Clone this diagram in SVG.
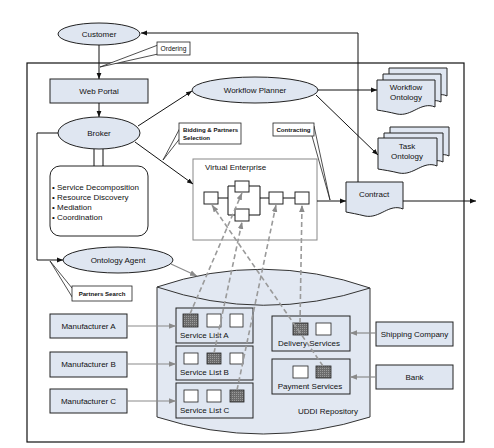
<svg xmlns="http://www.w3.org/2000/svg" width="494" height="448" viewBox="0 0 494 448">
<style>
text{font-family:"Liberation Sans",Arial,sans-serif;font-size:8px;fill:#111}
.c{text-anchor:middle}
.sm{font-size:6.7px}
.sb{font-size:6.1px;font-weight:bold}
.nb{fill:#dfe6f1;stroke:#222;stroke-width:1}
.wb{fill:#fff;stroke:#222;stroke-width:1}
.ln{fill:none;stroke:#111;stroke-width:1}
.gl{fill:none;stroke:#8a8a8a;stroke-width:1.2}
.dl{fill:none;stroke:#9a9a9a;stroke-width:1.6;stroke-dasharray:5 3}
.dk{fill:url(#hatch);stroke:#222;stroke-width:0.8}
.sq{fill:#fff;stroke:#222;stroke-width:0.8}
.co{fill:#fff;stroke:#222;stroke-width:0.8}
</style>
<defs>
<pattern id="hatch" width="2" height="2" patternUnits="userSpaceOnUse">
<rect width="2" height="2" fill="#6c6c6c"/><rect width="1" height="1" fill="#9a9a9a"/>
</pattern>
<marker id="ab" viewBox="0 0 10 10" refX="10" refY="5" markerWidth="6" markerHeight="6" orient="auto" markerUnits="userSpaceOnUse"><path d="M0,1 L10,5 L0,9 z" fill="#111"/></marker>
<marker id="ag" viewBox="0 0 10 10" refX="10" refY="5" markerWidth="7" markerHeight="7" orient="auto" markerUnits="userSpaceOnUse"><path d="M0,1 L10,5 L0,9 z" fill="#8a8a8a"/></marker>
</defs>
<rect width="494" height="448" fill="#fff"/>

<g id="frame"><rect x="27" y="63" width="437" height="379" fill="none" stroke="#111" stroke-width="1.2"/></g>

<g id="uddi">
<path d="M157,287 V417 Q263,451 370,417 V288" fill="#e2e8f2" stroke="#333" stroke-width="1"/>
<path d="M157,287 Q263,251 370,288 Q263,323 157,287 Z" fill="#e2e8f2" stroke="#333" stroke-width="1"/>
<text x="328" y="414" class="c">UDDI Repository</text>
</g>

<g id="customer"><ellipse cx="99" cy="34" rx="41" ry="11" class="nb"/><text x="99" y="37" class="c">Customer</text></g>
<g id="web-portal"><rect x="50" y="79" width="98" height="24" class="nb"/><text x="99" y="94" class="c">Web Portal</text></g>
<g id="broker"><ellipse cx="99" cy="133" rx="41" ry="16" class="nb"/><text x="99" y="136" class="c">Broker</text></g>
<g id="broker-functions">
<rect x="50" y="166" width="98" height="70" rx="10" class="wb"/>
<text x="52" y="190">• Service Decomposition</text>
<text x="52" y="200">• Resource Discovery</text>
<text x="52" y="210">• Mediation</text>
<text x="52" y="220">• Coordination</text>
</g>
<g id="ontology-agent"><ellipse cx="118" cy="260" rx="55" ry="13" class="nb"/><text x="118" y="263" class="c">Ontology Agent</text></g>
<g id="workflow-planner"><ellipse cx="255" cy="90" rx="63" ry="13" class="nb"/><text x="255" y="93" class="c">Workflow Planner</text></g>

<g id="workflow-ontology">
<path d="M389,68 H447 V96 C435,90 425,106 413,102 C405,99 397,101 389,102 Z" class="nb"/>
<path d="M383,74 H441 V102 C429,96 419,112 407,108 C399,105 391,107 383,108 Z" class="nb"/>
<path d="M377,80 H435 V107 C421,101 412,117 397,114 C389,112 383,111 377,110 Z" class="nb"/>
<text x="406" y="90" class="c">Workflow</text>
<text x="406" y="100" class="c">Ontology</text>
</g>
<g id="task-ontology">
<path d="M390,127 H449 V156 C437,150 427,166 415,162 C407,159 398,161 390,162 Z" class="nb"/>
<path d="M384,133 H443 V162 C431,156 421,172 409,168 C401,165 392,167 384,168 Z" class="nb"/>
<path d="M378,138 H437 V166 C423,160 414,176 399,173 C391,171 384,170 378,169 Z" class="nb"/>
<text x="407" y="149" class="c">Task</text>
<text x="407" y="159" class="c">Ontology</text>
</g>
<g id="contract">
<path d="M346,182 H403 V209 C389,203 380,219 365,216 C357,214 351,213 346,212 Z" class="nb"/>
<text x="374" y="197" class="c">Contract</text>
</g>

<g id="virtual-enterprise">
<rect x="193" y="159" width="124" height="81" fill="#fff" stroke="#888" stroke-width="1"/>
<text x="205" y="170">Virtual Enterprise</text>
<path d="M218,198 H228 M228,186 V215 M228,186 H235 M228,215 H235 M249,186 H260 M249,215 H260 M260,186 V215 M260,198 H269 M283,198 H295" class="ln"/>
<rect x="204" y="192" width="14" height="12" class="wb"/>
<rect x="235" y="181" width="14" height="11" class="wb"/>
<rect x="235" y="209" width="14" height="12" class="wb"/>
<rect x="269" y="192" width="14" height="12" class="wb"/>
<rect x="295" y="192" width="14" height="12" class="wb"/>
</g>

<g id="service-list-a"><rect x="176" y="308" width="77" height="35" class="nb"/>
<rect x="183" y="314" width="15" height="13" class="dk"/><rect x="207" y="314" width="14" height="13" class="sq"/><rect x="230" y="314" width="13" height="13" class="sq"/>
<text x="180" y="338">Service List A</text></g>
<g id="service-list-b"><rect x="176" y="346" width="77" height="34" class="nb"/>
<rect x="184" y="353" width="14" height="11" class="sq"/><rect x="207" y="353" width="14" height="11" class="dk"/><rect x="230" y="353" width="13" height="11" class="sq"/>
<text x="180" y="375">Service List B</text></g>
<g id="service-list-c"><rect x="176" y="383" width="77" height="35" class="nb"/>
<rect x="184" y="390" width="14" height="12" class="sq"/><rect x="207" y="390" width="14" height="12" class="sq"/><rect x="230" y="390" width="14" height="12" class="dk"/>
<text x="180" y="413">Service List C</text></g>
<g id="delivery-services"><rect x="272" y="316" width="78" height="35" class="nb"/>
<rect x="293" y="323" width="15" height="12" class="dk"/><rect x="316" y="323" width="15" height="12" class="sq"/>
<text x="309" y="346" class="c">Delivery Services</text></g>
<g id="payment-services"><rect x="272" y="359" width="78" height="35" class="nb"/>
<rect x="293" y="366" width="15" height="12" class="sq"/><rect x="316" y="366" width="15" height="12" class="dk"/>
<text x="310" y="389" class="c">Payment Services</text></g>

<g id="manufacturer-a"><rect x="50" y="314" width="77" height="24" class="nb"/><text x="88.5" y="329" class="c">Manufacturer A</text></g>
<g id="manufacturer-b"><rect x="50" y="352" width="77" height="25" class="nb"/><text x="88.5" y="367" class="c">Manufacturer B</text></g>
<g id="manufacturer-c"><rect x="50" y="389" width="77" height="24" class="nb"/><text x="88.5" y="404" class="c">Manufacturer C</text></g>
<g id="shipping-company"><rect x="376" y="322" width="77" height="24" class="nb"/><text x="414.5" y="337" class="c">Shipping Company</text></g>
<g id="bank"><rect x="376" y="365" width="77" height="24" class="nb"/><text x="414.5" y="380" class="c">Bank</text></g>

<g id="connectors">
<path d="M99,45 V79" class="ln" marker-end="url(#ab)"/>
<path d="M99,103 V117" class="ln" marker-end="url(#ab)"/>
<path d="M94,149 V166 M103,149 V166" class="ln"/>
<path d="M58,133 H37 V260 H63" class="ln" marker-end="url(#ab)"/>
<path d="M138,126 L192,91" class="ln" marker-end="url(#ab)"/>
<path d="M135,142 L193,184" class="ln" marker-end="url(#ab)"/>
<path d="M318,90 H377" class="ln" marker-end="url(#ab)"/>
<path d="M316,95 L378,155" class="ln" marker-end="url(#ab)"/>
<path d="M317,201 H346" class="ln" marker-end="url(#ab)"/>
<path d="M403,201 H476" class="ln" marker-end="url(#ab)"/>
<path d="M358,182 V33 H141" class="ln" marker-end="url(#ab)"/>
<path d="M171,264 L197,276" class="gl" marker-end="url(#ag)"/>
<path d="M127,326 H176" class="gl" marker-end="url(#ag)"/>
<path d="M127,364 H176" class="gl" marker-end="url(#ag)"/>
<path d="M127,401 H176" class="gl" marker-end="url(#ag)"/>
<path d="M376,333 H350" class="gl" marker-end="url(#ag)"/>
<path d="M376,377 H350" class="gl" marker-end="url(#ag)"/>
<path d="M190,314 L242,193" class="dl" marker-end="url(#ag)"/>
<path d="M214,353 L242,222" class="dl" marker-end="url(#ag)"/>
<path d="M237,390 L276,205" class="dl" marker-end="url(#ag)"/>
<path d="M300,323 L302,205" class="dl" marker-end="url(#ag)"/>
<path d="M323,366 L212,205" class="dl" marker-end="url(#ag)"/>
</g>

<g id="callout-ordering">
<path d="M158,45 L100,67 L158,54" class="co"/>
<rect x="157" y="42" width="33" height="13" class="co"/>
<text x="173.5" y="51" class="c sm">Ordering</text>
</g>
<g id="callout-bidding">
<path d="M180,128 L163,160 L181,137" class="co"/>
<rect x="179" y="123" width="62" height="21" class="co"/>
<text x="183" y="132" class="sb">Bidding &amp; Partners</text>
<text x="183" y="140" class="sb">Selection</text>
</g>
<g id="callout-contracting">
<path d="M314,126 L330,200 L312,136" class="co"/>
<rect x="273" y="123" width="41" height="13" class="co"/>
<text x="293.5" y="132" class="c sb">Contracting</text>
</g>
<g id="callout-partners-search">
<path d="M72,288 L50,261 L74,300" class="co"/>
<rect x="72" y="286" width="60" height="15" class="co"/>
<text x="102" y="296" class="c sb">Partners Search</text>
</g>
</svg>
